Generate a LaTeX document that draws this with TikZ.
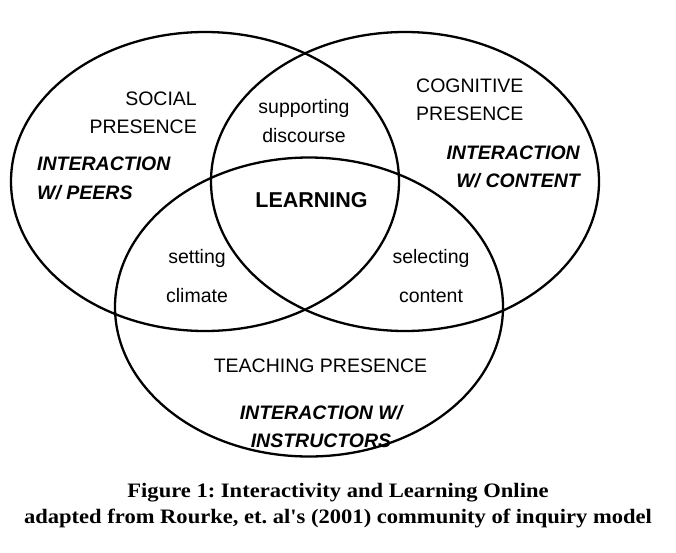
\documentclass[tikz,border=0pt]{standalone}
\usepackage{fontspec}
\setmainfont{Liberation Serif}
\setsansfont{Liberation Sans}
\newfontfamily\capfont[FakeStretch=1.1]{Liberation Serif}
\usetikzlibrary{shapes.geometric}
\tikzset{
  cipres/.style={ellipse, draw, line width=2.3pt, minimum width=388pt, minimum height=299pt, inner sep=0pt},
  cilabel/.style={inner sep=0pt, font=\sffamily\fontsize{19.5}{28.5}\selectfont},
  ciaction/.style={cilabel, font=\sffamily\bfseries\itshape\fontsize{19.5}{28.5}\selectfont},
  cicore/.style={cilabel, font=\sffamily\bfseries\fontsize{21.5}{26}\selectfont},
  cicaption/.style={inner sep=0pt, font=\capfont\bfseries\frenchspacing\fontsize{20.5}{25.5}\selectfont},
}

\begin{document}
\begin{tikzpicture}[x=1pt, y=-1pt]
  \useasboundingbox (0,0) rectangle (676,552);

  % The three presences.
  \node[cipres] (social) at (205,181.5) {};
  \node[cipres] (cognitive) at (405,181.5) {};
  \node[cipres] (teaching) at (309,307) {};

  % Labels of each presence (base = last line).
  \node[cilabel, anchor=base east, align=right] (social_title) at (197,133.5) {SOCIAL\\PRESENCE};
  \node[ciaction, anchor=base west, align=left] (social_act) at (37,199) {INTERACTION\\W/ PEERS};

  \node[cilabel, anchor=base west, align=left] (cognitive_title) at (416,120.5) {COGNITIVE\\PRESENCE};
  \node[ciaction, anchor=base east, align=right] (cognitive_act) at (580,187.5) {INTERACTION\\W/ CONTENT};

  \node[cilabel, anchor=base] (teaching_title) at (320.5,372.7) {TEACHING PRESENCE};
  \node[ciaction, anchor=base, align=center] (teaching_act) at (321,447.7) {INTERACTION W/\\INSTRUCTORS};

  % Overlaps.
  \node[cilabel, anchor=base, align=center] (discourse) at (304,142) {supporting\\discourse};
  \node[cilabel, anchor=base, align=center] (climate) at (197,302) {setting\\[10.5pt]climate};
  \node[cilabel, anchor=base, align=center] (content) at (431,302) {selecting\\[10.5pt]content};
  \node[cicore, anchor=base] (learning) at (311.5,207) {LEARNING};

  % Caption.
  \node[cicaption, anchor=base, align=center] (caption) at (338,523)
    {Figure 1: Interactivity and Learning Online\\adapted from Rourke, et. al's (2001) community of inquiry model};
\end{tikzpicture}
\end{document}
